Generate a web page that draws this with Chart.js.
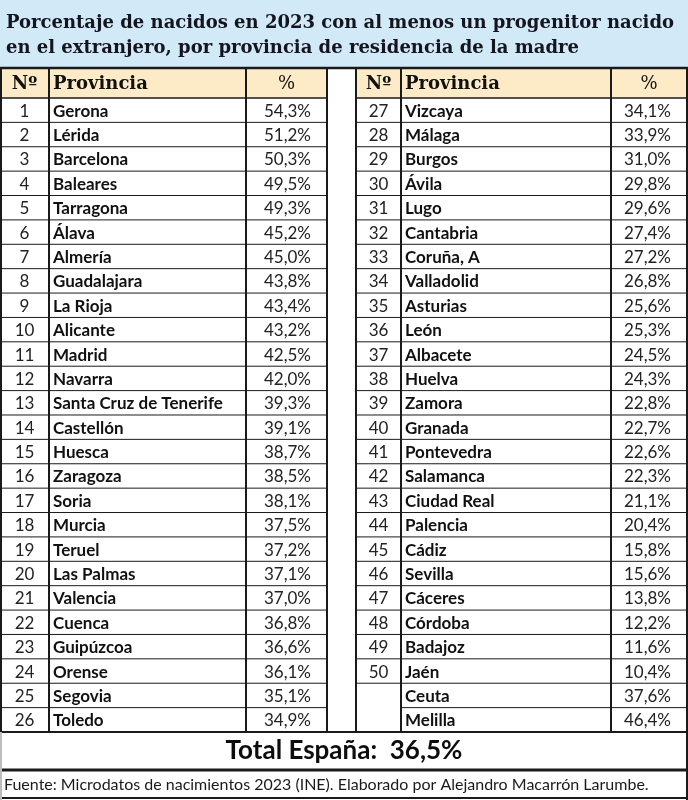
<!DOCTYPE html>
<html>
<head>
<meta charset="utf-8">
<script src="https://cdn.jsdelivr.net/npm/chart.js@4.4.1/dist/chart.umd.min.js"></script>
<style>
  html, body { margin: 0; padding: 0; background: #fff; }
  #wrap { width: 688px; height: 800px; }
</style>
</head>
<body>
<div id="wrap"><canvas id="myChart" width="688" height="800"></canvas></div>
<script>
const titleLines = ['Porcentaje de nacidos en 2023 con al menos un progenitor nacido',
                    'en el extranjero, por provincia de residencia de la madre'];
const headers = ['Nº', 'Provincia', '%'];

const ranksLeft = [1, 2, 3, 4, 5, 6, 7, 8, 9, 10, 11, 12, 13, 14, 15, 16, 17, 18, 19, 20, 21, 22, 23, 24, 25, 26];
const provincesLeft = ['Gerona', 'Lérida', 'Barcelona', 'Baleares', 'Tarragona', 'Álava', 'Almería', 'Guadalajara',
  'La Rioja', 'Alicante', 'Madrid', 'Navarra', 'Santa Cruz de Tenerife', 'Castellón', 'Huesca', 'Zaragoza',
  'Soria', 'Murcia', 'Teruel', 'Las Palmas', 'Valencia', 'Cuenca', 'Guipúzcoa', 'Orense', 'Segovia', 'Toledo'];
const valuesLeft = [54.3, 51.2, 50.3, 49.5, 49.3, 45.2, 45.0, 43.8, 43.4, 43.2, 42.5, 42.0, 39.3, 39.1, 38.7, 38.5,
  38.1, 37.5, 37.2, 37.1, 37.0, 36.8, 36.6, 36.1, 35.1, 34.9];

const ranksRight = [27, 28, 29, 30, 31, 32, 33, 34, 35, 36, 37, 38, 39, 40, 41, 42, 43, 44, 45, 46, 47, 48, 49, 50, '', ''];
const provincesRight = ['Vizcaya', 'Málaga', 'Burgos', 'Ávila', 'Lugo', 'Cantabria', 'Coruña, A', 'Valladolid',
  'Asturias', 'León', 'Albacete', 'Huelva', 'Zamora', 'Granada', 'Pontevedra', 'Salamanca', 'Ciudad Real',
  'Palencia', 'Cádiz', 'Sevilla', 'Cáceres', 'Córdoba', 'Badajoz', 'Jaén', 'Ceuta', 'Melilla'];
const valuesRight = [34.1, 33.9, 31.0, 29.8, 29.6, 27.4, 27.2, 26.8, 25.6, 25.3, 24.5, 24.3, 22.8, 22.7, 22.6,
  22.3, 21.1, 20.4, 15.8, 15.6, 13.8, 12.2, 11.6, 10.4, 37.6, 46.4];

const totalLabel = 'Total España:';
const totalValue = 36.5;
const footnote = 'Fuente: Microdatos de nacimientos 2023 (INE). Elaborado por Alejandro Macarrón Larumbe.';

// column edges on the x scale (left table, gap, right table)
const colEdges = [0, 49, 246, 327, 356, 401, 611, 687];

const fmt = v => v.toFixed(1).replace('.', ',') + '%';

function fitFont(ctx, text, weight, family, width, maxSize) {
  let size = maxSize;
  ctx.font = weight + ' ' + size + 'px ' + family;
  while (ctx.measureText(text).width > width && size > 6) {
    size -= 0.25;
    ctx.font = weight + ' ' + size + 'px ' + family;
  }
  return ctx.font;
}

const tablePlugin = {
  id: 'tablePlugin',
  beforeDraw(chart) {
    const ctx = chart.ctx;
    const xs = chart.scales.x, ys = chart.scales.y;
    const area = chart.chartArea;
    const X = i => xs.getPixelForValue(colEdges[i]);
    const Y = v => ys.getPixelForValue(v);
    const W = chart.width, H = chart.height;
    const nRows = provincesLeft.length;

    ctx.save();
    ctx.fillStyle = '#ffffff';
    ctx.fillRect(0, 0, W, H);

    // title band
    ctx.fillStyle = '#d2e9f8';
    ctx.fillRect(0, 0, W, area.top);
    ctx.fillStyle = '#15151f';
    ctx.textBaseline = 'alphabetic';
    ctx.textAlign = 'left';
    ctx.font = fitFont(ctx, titleLines[0], 'bold', '"DejaVu Serif", serif', 670, 22);
    ctx.fillText(titleLines[0], 6, 28);
    ctx.fillText(titleLines[1], 6, 53);

    // header cells
    const hTop = Y(ys.min), hBot = Y(0);
    ctx.fillStyle = '#fdebc8';
    ctx.fillRect(X(0), hTop, X(3) - X(0), hBot - hTop);
    ctx.fillRect(X(4), hTop, X(7) - X(4), hBot - hTop);
    ctx.fillStyle = '#111';
    ctx.textBaseline = 'middle';
    const hMid = (hTop + hBot) / 2 + 2;
    [0, 4].forEach(c => {
      ctx.font = 'bold 18px "DejaVu Serif", serif';
      ctx.textAlign = 'center';
      ctx.fillText(headers[0], (X(c) + X(c + 1)) / 2, hMid);
      ctx.textAlign = 'left';
      ctx.fillText(headers[1], X(c + 1) + 4, hMid);
      ctx.font = '18px "DejaVu Serif", serif';
      ctx.textAlign = 'center';
      ctx.fillText(headers[2], (X(c + 2) + X(c + 3)) / 2, hMid);
    });

    // body
    const sides = [
      { c: 0, ranks: ranksLeft, names: provincesLeft, vals: valuesLeft },
      { c: 4, ranks: ranksRight, names: provincesRight, vals: valuesRight }
    ];
    sides.forEach(s => {
      for (let i = 0; i < nRows; i++) {
        const yMid = Y(i + 0.5) + 1;
        ctx.fillStyle = '#222';
        ctx.font = '17px Lato, sans-serif';
        ctx.textAlign = 'center';
        ctx.fillText(String(s.ranks[i]), (X(s.c) + X(s.c + 1)) / 2, yMid);
        ctx.fillStyle = '#111';
        ctx.font = 'bold 17px Lato, sans-serif';
        ctx.textAlign = 'left';
        ctx.fillText(s.names[i], X(s.c + 1) + 4, yMid);
        ctx.fillStyle = '#222';
        ctx.font = '17px Lato, sans-serif';
        ctx.textAlign = 'right';
        ctx.fillText(fmt(s.vals[i]), X(s.c + 3) - 16, yMid);
      }
    });

    // grid lines
    ctx.strokeStyle = '#1a1a1a';
    const hline = (x0, x1, y, w) => { ctx.lineWidth = w; ctx.beginPath(); ctx.moveTo(x0, y); ctx.lineTo(x1, y); ctx.stroke(); };
    const vline = (x, y0, y1, w) => { ctx.lineWidth = w; ctx.beginPath(); ctx.moveTo(x, y0); ctx.lineTo(x, y1); ctx.stroke(); };

    for (let i = 1; i < nRows; i++) {
      hline(X(0), X(3), Y(i), 1);
      hline(i === nRows - 1 ? X(5) : X(4), X(7), Y(i), 1);
    }
    hline(0, W, hTop + 1, 2.5);
    hline(X(0), X(3), hBot, 1.5);
    hline(X(4), X(7), hBot, 1.5);
    hline(0, W, Y(nRows), 2);
    for (let c = 0; c < colEdges.length; c++) {
      vline(c === 0 ? X(0) + 1 : X(c), hTop, Y(nRows), 2);
    }

    // total row
    const totY = Y(nRows) + 38;
    ctx.fillStyle = '#0d0d0d';
    ctx.font = 'bold 26px Lato, sans-serif';
    ctx.textAlign = 'center';
    ctx.fillText(totalLabel + '  ' + fmt(totalValue), W / 2, (Y(nRows) + totY) / 2);
    hline(0, W, totY, 3);

    // footnote
    ctx.fillStyle = '#1a1a1a';
    ctx.textAlign = 'left';
    ctx.font = fitFont(ctx, footnote, 'normal', 'Lato, sans-serif', 676, 16);
    ctx.fillText(footnote, 4, totY + 15);
    hline(0, W, H - 2, 2);

    // outer side borders for the lower band
    ctx.strokeStyle = '#bdbdbd';
    vline(1, Y(nRows), H, 2);
    ctx.strokeStyle = '#1a1a1a';
    vline(X(7), Y(nRows), H, 2);
    ctx.restore();
  }
};

const ctx = document.getElementById('myChart').getContext('2d');
const myChart = new Chart(ctx, {
  type: 'scatter',
  data: { datasets: [] },
  options: {
    responsive: false,
    animation: false,
    devicePixelRatio: 1,
    layout: { padding: { top: 67, bottom: 68, left: 0, right: 0 } },
    plugins: { legend: { display: false }, tooltip: { enabled: false } },
    scales: {
      x: { type: 'linear', min: 0, max: 688, display: false },
      y: { type: 'linear', min: -1.27, max: 26, reverse: true, display: false }
    }
  },
  plugins: [tablePlugin]
});
</script>
</body>
</html>
